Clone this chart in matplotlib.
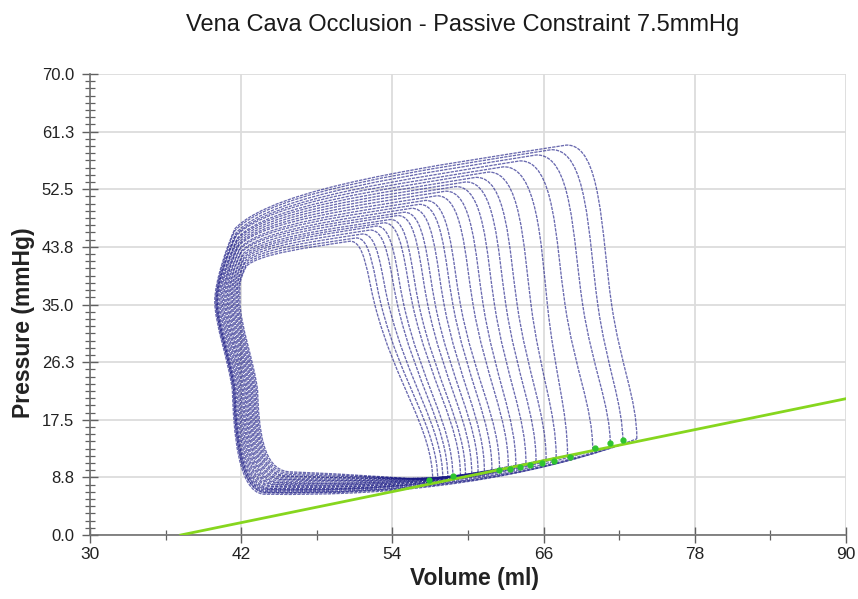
import matplotlib
matplotlib.use("Agg")
import matplotlib.pyplot as plt
from matplotlib.path import Path
from matplotlib.patches import PathPatch
from matplotlib.ticker import AutoMinorLocator

plt.rcParams['font.family'] = ['Liberation Sans', 'DejaVu Sans']

title = "Vena Cava Occlusion - Passive Constraint 7.5mmHg"
x_label = "Volume (ml)"
y_label = "Pressure (mmHg)"

x_ticks = [30, 42, 54, 66, 78, 90]
y_ticks = [0.0, 8.75, 17.5, 26.25, 35.0, 43.75, 52.5, 61.25, 70.0]
y_tick_labels = ["0.0", "8.8", "17.5", "26.3", "35.0", "43.8", "52.5", "61.3", "70.0"]

# loops, innermost -> outermost
edv = [57.2, 57.6, 58.0, 58.4, 58.8, 59.4, 59.8, 60.3, 60.8, 61.3, 61.9, 62.5,
       63.2, 63.8, 64.6, 65.4, 66.2, 67.0, 67.9, 69.9, 71.3, 72.3, 73.4]
edp = [8.2, 8.3, 8.5, 8.6, 8.8, 9.0, 9.1, 9.3, 9.5, 9.7, 9.9, 10.1,
       10.4, 10.6, 10.9, 11.2, 11.5, 11.8, 12.1, 12.9, 13.4, 13.8, 14.6]
v_mid = [52.6, 53.1, 53.7, 54.4, 54.9, 55.6, 56.1, 56.8, 57.4, 58.1, 58.8, 59.4,
         60.4, 61.2, 62.1, 63.0, 63.9, 65.0, 66.3, 67.7, 69.1, 70.3, 71.4]
v_pk = [50.6, 51.1, 51.6, 52.2, 52.7, 53.3, 53.8, 54.4, 54.9, 55.5, 56.1, 56.6,
        57.5, 58.2, 59.0, 59.8, 60.6, 61.6, 62.8, 64.1, 65.4, 66.6, 67.8]
p_pk = [44.6, 45.1, 45.7, 46.3, 46.9, 47.4, 47.9, 48.5, 49.0, 49.6, 50.2, 50.8,
        51.5, 52.2, 52.9, 53.6, 54.3, 55.1, 55.9, 56.8, 57.7, 58.5, 59.2]
v_es = [42.4, 42.4, 42.3, 42.3, 42.2, 42.2, 42.1, 42.1, 42.0, 42.0, 41.9, 41.9,
        41.8, 41.8, 41.8, 41.7, 41.7, 41.7, 41.6, 41.6, 41.6, 41.5, 41.5]
p_es = [40.8, 41.1, 41.3, 41.6, 41.8, 42.1, 42.3, 42.6, 42.9, 43.1, 43.4, 43.6,
        43.9, 44.1, 44.4, 44.6, 44.9, 45.1, 45.4, 45.6, 45.9, 46.2, 46.5]
v_bulge = [41.9, 41.8, 41.7, 41.6, 41.5, 41.4, 41.3, 41.2, 41.1, 41.0, 40.9, 40.8,
           40.7, 40.6, 40.5, 40.4, 40.3, 40.2, 40.1, 40.1, 40.0, 40.0, 39.9]
v_left = [43.3, 43.2, 43.1, 43.0, 42.9, 42.8, 42.7, 42.6, 42.5, 42.4, 42.3, 42.2,
          42.1, 42.0, 41.9, 41.8, 41.7, 41.6, 41.5, 41.5, 41.4, 41.4, 41.3]
p_bot = [9.6, 9.4, 9.2, 9.0, 8.9, 8.7, 8.5, 8.4, 8.2, 8.0, 7.9, 7.7,
         7.6, 7.4, 7.3, 7.1, 7.0, 6.9, 6.8, 6.6, 6.5, 6.4, 6.2]

# end-diastolic pressure-volume relation and the marked points
edpvr_v = [37.2, 90.0]
edpvr_p = [0.0, 20.7]
dots_v = [56.9, 58.8, 62.5, 63.3, 64.1, 64.9, 65.9, 66.8, 68.1, 70.1, 71.3, 72.3]
dots_p = [8.3, 8.9, 9.9, 10.0, 10.3, 10.6, 10.9, 11.3, 11.8, 13.2, 13.9, 14.5]


def loop_path(i):
    ev, ep = edv[i], edp[i]
    vm, vk, pk = v_mid[i], v_pk[i], p_pk[i]
    ves, pes = v_es[i], p_es[i]
    vb, vl, pb = v_bulge[i], v_left[i], p_bot[i]
    dv, dp = vk - ves, pk - pes
    h = 35 - ep
    lean = 0.35 * (ev - vm) / (0.45 * h)   # ml per mmHg along the right edge
    k = 0.45 * (pk - 35)
    verts = [
        (ev, ep),
        (ev, ep + 0.3 * h), (vm + 0.35 * (ev - vm), 35 - 0.45 * h), (vm, 35),
        (vm - lean * k, 35 + k), (vm - 0.8, pk + 0.2), (vk, pk),
        (vk - 0.4 * dv, pk - 0.25 * dp), (ves + 0.12 * dv, pes + 0.5 * dp), (ves, pes),
        (ves - 0.6, pes - 2.5), (vb, 38.5), (vb, 35.5),
        (vb, 32.0), (vl - 0.3, 26.5), (vl, 22),
        (vl + 0.1, 16), (vl + 0.4, pb + 0.3), (vl + 2.5, pb),
        ((vl + 2.5 + ev) / 2 + 2, pb - 0.6), (ev, ep),
    ]
    codes = [Path.MOVETO] + [Path.CURVE4] * 18 + [Path.CURVE3] * 2
    return Path(verts, codes)


fig = plt.figure(figsize=(8.58, 5.99), dpi=100)
ax = fig.add_axes([0.1049, 0.1068, 0.8811, 0.7697])

for i in range(len(edv)):
    ax.add_patch(PathPatch(loop_path(i), fill=False, edgecolor="#1a1a85",
                           lw=0.95, alpha=0.65, linestyle=(0, (2.5, 0.8)), zorder=2))

ax.plot(edpvr_v, edpvr_p, color="#86d61e", lw=2.0, zorder=3)
ax.plot(dots_v, dots_p, "o", color="#2fc42f", ms=3.5, zorder=4)

ax.set_xlim(30, 90)
ax.set_ylim(0, 70)
ax.set_xticks(x_ticks)
ax.set_yticks(y_ticks)
ax.set_yticklabels(y_tick_labels)
ax.xaxis.set_minor_locator(AutoMinorLocator(2))
ax.yaxis.set_minor_locator(AutoMinorLocator(8))

ax.grid(True, which="major", color="#dcdcdc", lw=1.3)
ax.set_axisbelow(True)
for s in ["top", "right"]:
    ax.spines[s].set_visible(False)
for s in ["left", "bottom"]:
    ax.spines[s].set_color("#707070")
    ax.spines[s].set_linewidth(1.2)

ax.tick_params(which="major", direction="inout", length=11, width=1.0, color="#606060",
               labelsize=12, labelcolor="#222222")
ax.tick_params(which="minor", direction="inout", length=7, width=0.9, color="#606060")
ax.tick_params(axis="y", which="major", pad=6)
ax.tick_params(axis="x", which="major", pad=3, labelsize=12.5)

ax.set_xlabel(x_label, fontsize=16.5, fontweight="bold", color="#222222")
ax.xaxis.set_label_coords(0.509, -0.07)
ax.set_ylabel(y_label, fontsize=16.5, fontweight="bold", color="#222222")
ax.yaxis.set_label_coords(-0.073, 0.46)

fig.text(463 / 858, 1 - 31 / 599, title, ha="center", va="baseline",
         fontsize=17, color="#1a1a1a")

fig.savefig("out.png", dpi=100)
